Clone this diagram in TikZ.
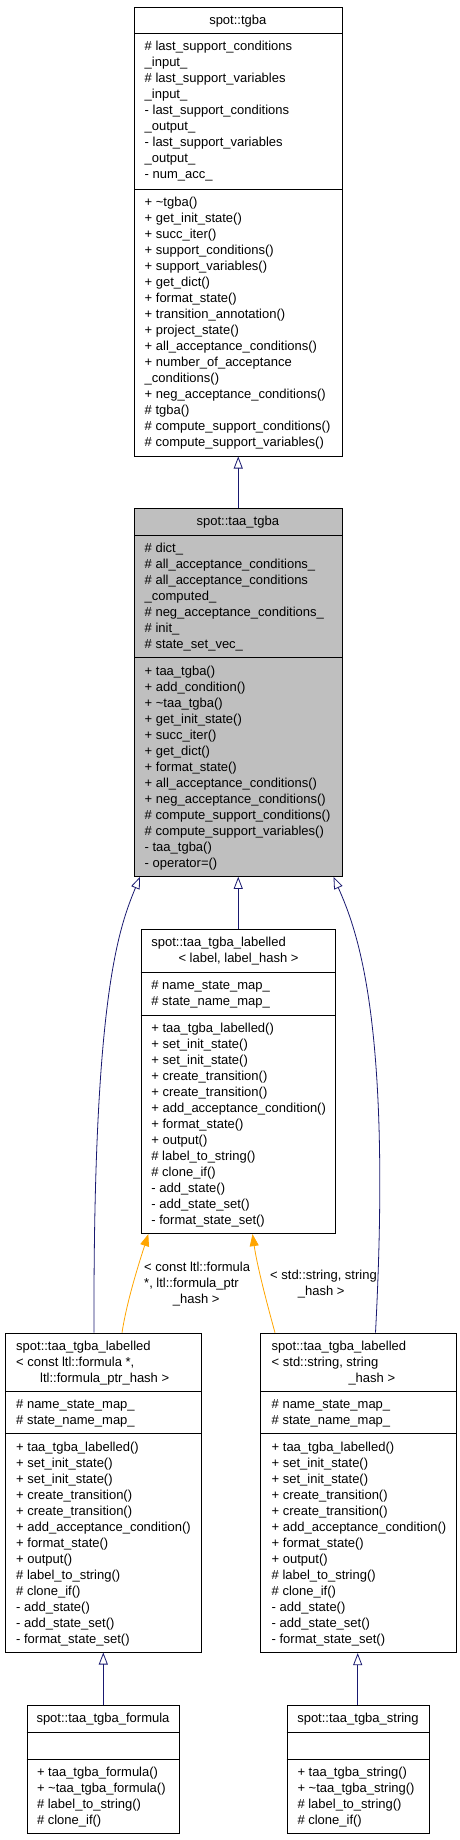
\documentclass[tikz,border=0pt]{standalone}
\usepackage{fontspec}
\setmainfont{Liberation Sans}
\usetikzlibrary{arrows.meta}
\definecolor{edgeblue}{HTML}{191970}
\definecolor{edgeorange}{HTML}{FFA500}
\definecolor{boxgray}{HTML}{BFBFBF}
\begin{document}
\begin{tikzpicture}[x=1pt,y=-1pt,
  classbox/.style={draw=black, line width=0.8pt, fill=white, inner sep=0pt, anchor=north west},
  sepline/.style={draw=black, line width=0.8pt},
  txt/.style={inner sep=0pt, anchor=north west, align=left, font=\fontsize{13}{16}\selectfont},
  ctxt/.style={inner sep=0pt, anchor=north, align=center, font=\fontsize{13}{16}\selectfont},
  inherit/.style={draw=edgeblue, line width=0.8pt, -{Triangle[open, length=12pt, width=9pt]}},
  templ/.style={draw=edgeorange, line width=0.8pt, -{Triangle[length=12pt, width=9pt, fill=edgeorange]}}
]
\useasboundingbox (0,0) rectangle (460,1840);

% ---------------- spot::tgba ----------------
\node[classbox, minimum width=207.7pt, minimum height=448.4pt] (tgba) at (134,7.3) {};
\draw[sepline] (tgba.west |- 0,33) -- (tgba.east |- 0,33);
\draw[sepline] (tgba.west |- 0,189) -- (tgba.east |- 0,189);
\node[ctxt] (tgbaT) at (237.8,13.4) {\strut spot::tgba};
\node[txt] (tgbaA) at (144.5,39.1) {\strut\# last\_support\_conditions\\
\_input\_\\
\# last\_support\_variables\\
\_input\_\\
- last\_support\_conditions\\
\_output\_\\
- last\_support\_variables\\
\_output\_\\
- num\_acc\_};
\node[txt] (tgbaM) at (144.5,195.1) {\strut+ \textasciitilde tgba()\\
+ get\_init\_state()\\
+ succ\_iter()\\
+ support\_conditions()\\
+ support\_variables()\\
+ get\_dict()\\
+ format\_state()\\
+ transition\_annotation()\\
+ project\_state()\\
+ all\_acceptance\_conditions()\\
+ number\_of\_acceptance\\
\_conditions()\\
+ neg\_acceptance\_conditions()\\
\# tgba()\\
\# compute\_support\_conditions()\\
\# compute\_support\_variables()};

% ---------------- spot::taa_tgba ----------------
\node[classbox, fill=boxgray, minimum width=207.7pt, minimum height=367.7pt] (taa) at (134,508.3) {};
\draw[sepline] (taa.west |- 0,535.3) -- (taa.east |- 0,535.3);
\draw[sepline] (taa.west |- 0,657.7) -- (taa.east |- 0,657.7);
\node[ctxt] (taaT) at (237.8,514.4) {\strut spot::taa\_tgba};
\node[txt] (taaA) at (144.5,541.4) {\strut\# dict\_\\
\# all\_acceptance\_conditions\_\\
\# all\_acceptance\_conditions\\
\_computed\_\\
\# neg\_acceptance\_conditions\_\\
\# init\_\\
\# state\_set\_vec\_};
\node[txt] (taaM) at (144.5,663.8) {\strut+ taa\_tgba()\\
+ add\_condition()\\
+ \textasciitilde taa\_tgba()\\
+ get\_init\_state()\\
+ succ\_iter()\\
+ get\_dict()\\
+ format\_state()\\
+ all\_acceptance\_conditions()\\
+ neg\_acceptance\_conditions()\\
\# compute\_support\_conditions()\\
\# compute\_support\_variables()\\
- taa\_tgba()\\
- operator=()};

% ---------------- taa_tgba_labelled<label,label_hash> ----------------
\node[classbox, minimum width=194.3pt, minimum height=304pt] (mid) at (140.7,929.3) {};
\draw[sepline] (mid.west |- 0,972.3) -- (mid.east |- 0,972.3);
\draw[sepline] (mid.west |- 0,1015.3) -- (mid.east |- 0,1015.3);
\node[txt] (midT) at (151.2,935.4) {\strut spot::taa\_tgba\_labelled\\
\hspace*{27.1pt}< label, label\_hash >};
\node[txt] (midA) at (151.2,978.4) {\strut\# name\_state\_map\_\\
\# state\_name\_map\_};
\node[txt] (midM) at (151.2,1021.4) {\strut+ taa\_tgba\_labelled()\\
+ set\_init\_state()\\
+ set\_init\_state()\\
+ create\_transition()\\
+ create\_transition()\\
+ add\_acceptance\_condition()\\
+ format\_state()\\
+ output()\\
\# label\_to\_string()\\
\# clone\_if()\\
- add\_state()\\
- add\_state\_set()\\
- format\_state\_set()};

% ---------------- left: formula labelled ----------------
\node[classbox, minimum width=195.7pt, minimum height=319pt] (lb) at (5,1332.7) {};
\draw[sepline] (lb.west |- 0,1391) -- (lb.east |- 0,1391);
\draw[sepline] (lb.west |- 0,1433.7) -- (lb.east |- 0,1433.7);
\node[txt] (lbT) at (16,1338.8) {\strut spot::taa\_tgba\_labelled\\
< const ltl::formula *,\\
\hspace*{24pt}ltl::formula\_ptr\_hash >};
\node[txt] (lbA) at (16,1397.1) {\strut\# name\_state\_map\_\\
\# state\_name\_map\_};
\node[txt] (lbM) at (16,1439.8) {\strut+ taa\_tgba\_labelled()\\
+ set\_init\_state()\\
+ set\_init\_state()\\
+ create\_transition()\\
+ create\_transition()\\
+ add\_acceptance\_condition()\\
+ format\_state()\\
+ output()\\
\# label\_to\_string()\\
\# clone\_if()\\
- add\_state()\\
- add\_state\_set()\\
- format\_state\_set()};

% ---------------- right: string labelled ----------------
\node[classbox, minimum width=195.4pt, minimum height=319.6pt] (rb) at (260.3,1332.7) {};
\draw[sepline] (rb.west |- 0,1391) -- (rb.east |- 0,1391);
\draw[sepline] (rb.west |- 0,1433.7) -- (rb.east |- 0,1433.7);
\node[txt] (rbT) at (271.5,1338.8) {\strut spot::taa\_tgba\_labelled\\
< std::string, string\\
\hspace*{76.8pt}\_hash >};
\node[txt] (rbA) at (271.5,1397.1) {\strut\# name\_state\_map\_\\
\# state\_name\_map\_};
\node[txt] (rbM) at (271.5,1439.8) {\strut+ taa\_tgba\_labelled()\\
+ set\_init\_state()\\
+ set\_init\_state()\\
+ create\_transition()\\
+ create\_transition()\\
+ add\_acceptance\_condition()\\
+ format\_state()\\
+ output()\\
\# label\_to\_string()\\
\# clone\_if()\\
- add\_state()\\
- add\_state\_set()\\
- format\_state\_set()};

% ---------------- taa_tgba_formula ----------------
\node[classbox, minimum width=152.6pt, minimum height=128pt] (fo) at (26.7,1705.3) {};
\draw[sepline] (fo.west |- 0,1732.3) -- (fo.east |- 0,1732.3);
\draw[sepline] (fo.west |- 0,1759.3) -- (fo.east |- 0,1759.3);
\node[ctxt] (foT) at (103,1711.4) {\strut spot::taa\_tgba\_formula};
\node[txt] (foM) at (36.8,1765.4) {\strut+ taa\_tgba\_formula()\\
+ \textasciitilde taa\_tgba\_formula()\\
\# label\_to\_string()\\
\# clone\_if()};

% ---------------- taa_tgba_string ----------------
\node[classbox, minimum width=142.6pt, minimum height=128pt] (st) at (286.7,1705.3) {};
\draw[sepline] (st.west |- 0,1732.3) -- (st.east |- 0,1732.3);
\draw[sepline] (st.west |- 0,1759.3) -- (st.east |- 0,1759.3);
\node[ctxt] (stT) at (358,1711.4) {\strut spot::taa\_tgba\_string};
\node[txt] (stM) at (297.3,1765.4) {\strut+ taa\_tgba\_string()\\
+ \textasciitilde taa\_tgba\_string()\\
\# label\_to\_string()\\
\# clone\_if()};

% ---------------- connectors ----------------
\draw[inherit] (taa.north) -- (tgba.south);
\draw[inherit] (mid.north) -- (taa.south);
\draw[inherit] (lb.north -| 94,0) .. controls (93,1000) and (118,930) .. (taa.south -| 140,0);
\draw[inherit] (rb.north -| 375.5,0) .. controls (392,1020) and (357,930) .. (taa.south -| 333.5,0);
\draw[templ] (lb.north -| 122,0) .. controls (127,1300) and (140,1260) .. (mid.south -| 148.3,0);
\draw[templ] (rb.north -| 275,0) .. controls (266,1300) and (257,1265) .. (mid.south -| 252.5,0);
\draw[inherit] (fo.north -| 103.3,0) -- (lb.south -| 103.3,0);
\draw[inherit] (st.north -| 357.7,0) -- (rb.south -| 357.7,0);

% ---------------- template labels ----------------
\node[txt] (lblL) at (144,1259.8) {\strut< const ltl::formula\\
*, ltl::formula\_ptr\\
\hspace*{28.7pt}\_hash >};
\node[txt] (lblR) at (270,1268.3) {\strut< std::string, string\\
\hspace*{27.7pt}\_hash >};
\end{tikzpicture}
\end{document}
